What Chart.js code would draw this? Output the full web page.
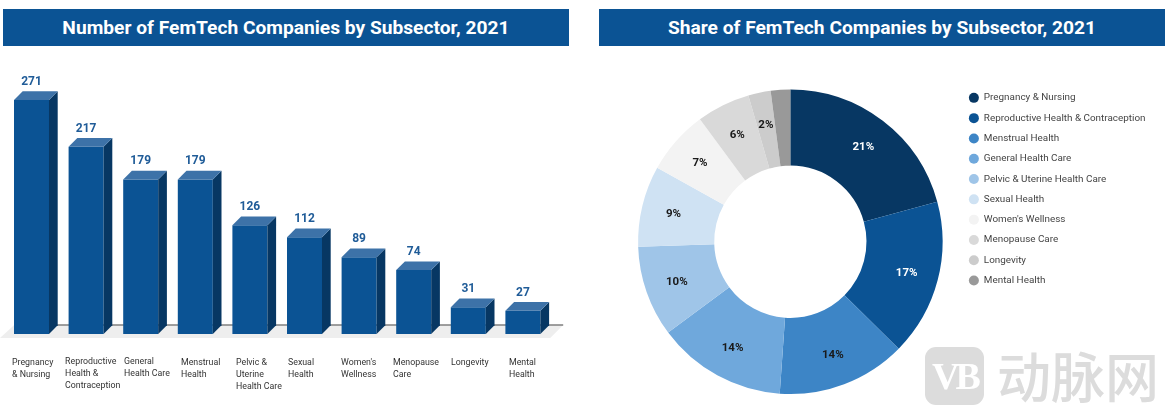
<!DOCTYPE html>
<html>
<head>
<meta charset="utf-8">
<script src="https://cdn.jsdelivr.net/npm/chart.js@4/dist/chart.umd.js"></script>
<style>
html,body{margin:0;padding:0;background:#fff;width:1169px;height:415px;overflow:hidden;font-family:Roboto,sans-serif}
.hdr{position:absolute;top:9px;height:37px;line-height:37px;background:#0b5394;color:#fff;text-align:center;font:700 19.2px/37px Roboto,sans-serif}
.wrap{position:absolute;top:46px;height:369px}
.logo{position:absolute;left:925px;top:347px;width:59px;height:58px;border-radius:11px;background:#dcdcdc;color:#fff;text-align:center;font:700 38px/58px "Liberation Serif",serif;letter-spacing:-4px}
.wm{position:absolute;left:997px;top:338px;color:#dcdcdc;font:500 54px/74px "Noto Sans CJK SC",sans-serif;white-space:nowrap}
</style>
</head>
<body>
<div class="hdr" style="left:3px;width:566px">Number of FemTech Companies by Subsector, 2021</div>
<div class="hdr" style="left:599px;width:566px">Share of FemTech Companies by Subsector, 2021</div>
<div class="wrap" style="left:0;width:600px"><canvas id="bars" width="600" height="369"></canvas></div>
<div class="wrap" style="left:599px;width:570px"><canvas id="donut" width="570" height="369"></canvas></div>
<div class="logo">VB</div>
<div class="wm">动脉网</div>
<script>
// ---- data ----
const barCategories = [
  ["Pregnancy","& Nursing"],
  ["Reproductive","Health &","Contraception"],
  ["General","Health Care"],
  ["Menstrual","Health"],
  ["Pelvic &","Uterine","Health Care"],
  ["Sexual","Health"],
  ["Women's","Wellness"],
  ["Menopause","Care"],
  ["Longevity"],
  ["Mental","Health"]
];
const barValues = [271,217,179,179,126,112,89,74,31,27];
const shareCategories = ["Pregnancy & Nursing","Reproductive Health & Contraception","Menstrual Health","General Health Care","Pelvic & Uterine Health Care","Sexual Health","Women's Wellness","Menopause Care","Longevity","Mental Health"];
const shareValues = [271,217,179,179,126,112,89,74,31,27];
const shareLabels = ["21%","17%","14%","14%","10%","9%","7%","6%","2%",""];
const shareColors = ["#073763","#0b5394","#3d85c6","#6fa8dc","#9fc5e8","#cfe2f3","#f3f3f3","#d9d9d9","#cccccc","#999999"];
const shareLabelColors = ["#fff","#fff","#1a1a1a","#1a1a1a","#1a1a1a","#1a1a1a","#1a1a1a","#1a1a1a","#1a1a1a","#1a1a1a"];

// ---- styling of the pseudo-3D bars ----
const DEPTH = 8.7;
const tickNudgeX = [-19.5,-21,-16.7,-14.3,-13.9,-16.5,-18.1,-20.7,-17.3,-13.9];
const tickNudgeY = [0,-1,-1,0,0,0,0,0,0,0];

function poly(ctx, pts, fill){
  ctx.beginPath();
  pts.forEach((p,i)=> i ? ctx.lineTo(p[0],p[1]) : ctx.moveTo(p[0],p[1]));
  ctx.closePath();
  ctx.fillStyle = fill;
  ctx.fill();
}

const bars3d = {
  id:'bars3d',
  beforeDraw(chart){
    const items = chart.scales.x.getLabelItems();
    if(!items._nudged){
      items.forEach((it,i)=>{
        it.options.translation[0] += tickNudgeX[i];
        it.options.translation[1] += tickNudgeY[i];
      });
      items._nudged = true;
    }
  },
  beforeDatasetsDraw(chart){
    const ctx = chart.ctx, y0 = chart.scales.y.getPixelForValue(0);
    const a = chart.chartArea;
    const backY = y0 - DEPTH - 0.3, frontY = y0 + 4;
    poly(ctx,[[a.left+10,backY],[a.right+13,backY],[a.right,frontY],[a.left-4.2,frontY]],'#eeeeee');
    ctx.save();
    ctx.strokeStyle='#7f7f7f';ctx.lineWidth=1.4;
    ctx.beginPath();ctx.moveTo(a.left+50,backY);ctx.lineTo(a.right+13,backY);ctx.stroke();
    ctx.restore();
  },
  afterDatasetsDraw(chart){
    const ctx = chart.ctx;
    chart.getDatasetMeta(0).data.forEach((b,i)=>{
      const l=b.x-b.width/2, r=b.x+b.width/2, t=b.y, base=b.base;
      poly(ctx,[[r,t],[r+DEPTH,t-DEPTH],[r+DEPTH,base-DEPTH],[r,base]],'#073763');
      poly(ctx,[[l,t],[l+DEPTH,t-DEPTH],[r+DEPTH,t-DEPTH],[r,t]],'#3d72a8');
      ctx.save();
      ctx.fillStyle='#205c98';
      ctx.font='700 12px Roboto, sans-serif';
      ctx.textAlign='center';ctx.textBaseline='middle';
      ctx.fillText(String(barValues[i]), b.x, t-18);
      ctx.restore();
    });
  }
};

new Chart(document.getElementById('bars'),{
  type:'bar',
  data:{labels:barCategories,datasets:[{data:barValues,backgroundColor:'#0b5394',borderWidth:0,barPercentage:0.641,categoryPercentage:1}]},
  options:{
    responsive:false,animation:false,
    layout:{padding:{left:4.2,right:49.8,top:29,bottom:0}},
    plugins:{legend:{display:false},title:{display:false},tooltip:{enabled:false}},
    scales:{
      x:{
        grid:{display:false},border:{display:false},
        afterFit(s){s.height=81;},
        ticks:{align:'start',maxRotation:0,minRotation:0,autoSkip:false,padding:15,color:'#333',font:{family:'Roboto',size:8.8,lineHeight:'12px'}}
      },
      y:{display:false,min:0,max:300}
    }
  },
  plugins:[bars3d]
});

const donutText = {
  id:'donutText',
  afterDatasetsDraw(chart){
    const ctx = chart.ctx;
    chart.getDatasetMeta(0).data.forEach((arc,i)=>{
      if(!shareLabels[i]) return;
      const mid=(arc.startAngle+arc.endAngle)/2;
      const r=arc.innerRadius+(arc.outerRadius-arc.innerRadius)*0.58;
      ctx.save();
      ctx.fillStyle=shareLabelColors[i];
      ctx.font='700 11.5px Roboto, sans-serif';
      ctx.textAlign='center';ctx.textBaseline='middle';
      ctx.fillText(shareLabels[i],arc.x+Math.cos(mid)*r,arc.y+Math.sin(mid)*r+0.8);
      ctx.restore();
    });
  },
  afterLayout(chart){
    // the legend column starts level with the top of the ring block
    chart.legend.top=36.5;
  }
};

new Chart(document.getElementById('donut'),{
  type:'doughnut',
  data:{labels:shareCategories,datasets:[{data:shareValues,backgroundColor:shareColors,borderWidth:0}]},
  options:{
    responsive:false,animation:false,cutout:'50%',
    layout:{padding:{left:23.2,right:13.5,top:43.5,bottom:21}},
    plugins:{
      tooltip:{enabled:false},title:{display:false},
      legend:{position:'right',align:'start',labels:{usePointStyle:true,pointStyle:'circle',pointStyleWidth:10,boxHeight:7.07,padding:10.4,color:'#444',font:{family:'Roboto',size:9.9}}}
    }
  },
  plugins:[donutText]
});
</script>
</body>
</html>
